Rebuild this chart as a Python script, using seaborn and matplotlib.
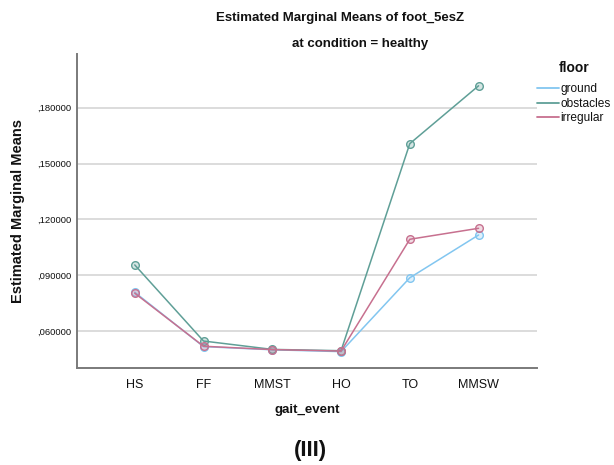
import matplotlib
matplotlib.use("Agg")
import matplotlib.pyplot as plt
from matplotlib.lines import Line2D
from matplotlib.colors import to_rgba
import seaborn as sns
import pandas as pd

# Estimated marginal means of foot_5esZ, condition = healthy
gait_events = ["HS", "FF", "MMST", "HO", "TO", "MMSW"]
floors = ["ground", "obstacles", "irregular"]
ground = [0.0808, 0.0516, 0.0499, 0.0489, 0.0886, 0.1116]
obstacles = [0.0955, 0.0546, 0.0501, 0.0494, 0.1607, 0.1918]
irregular = [0.0803, 0.0518, 0.0500, 0.0492, 0.1093, 0.1152]
y_ticks = [0.060, 0.090, 0.120, 0.150, 0.180]
y_tick_labels = [",060000", ",090000", ",120000", ",150000", ",180000"]

colors = {"ground": "#82c6f0", "obstacles": "#5f9f97", "irregular": "#c7708f"}

df = pd.DataFrame({
    "gait_event": gait_events * 3,
    "floor": [f for f in floors for _ in gait_events],
    "mean": ground + obstacles + irregular,
})
df["pos"] = df["gait_event"].map({g: i for i, g in enumerate(gait_events)})

sns.set_theme(style="white")
plt.rcParams["font.family"] = ["Liberation Sans", "DejaVu Sans"]
plt.rcParams["text.color"] = "#111111"
plt.rcParams["axes.labelcolor"] = "#111111"
plt.rcParams["xtick.color"] = "#111111"
plt.rcParams["ytick.color"] = "#111111"

fig = plt.figure(figsize=(6.14, 4.65), dpi=100)
ax = fig.add_axes([0.1254, 0.2086, 0.7492, 0.6753])

sns.lineplot(data=df, x="pos", y="mean", hue="floor", hue_order=floors,
             palette=colors, marker="o", markersize=5.5, markeredgewidth=1.0,
             linewidth=1.1, legend=False, ax=ax, zorder=3)
for line, f in zip(ax.lines, floors):
    line.set_markerfacecolor(to_rgba(colors[f], 0.25))
    line.set_markeredgecolor(colors[f])

ax.set_xlim(-0.84, 5.85)
ax.set_ylim(0.0401, 0.2089)
ax.set_xticks(range(len(gait_events)))
ax.set_xticklabels(gait_events, fontsize=9)
ax.set_yticks(y_ticks)
ax.set_yticklabels(y_tick_labels, fontsize=6.8)
ax.tick_params(axis="both", length=0, pad=4)
ax.tick_params(axis="x", pad=8)

ax.yaxis.grid(True, color="#d6d6d6", linewidth=1.2)
ax.xaxis.grid(False)
for side in ["top", "right"]:
    ax.spines[side].set_visible(False)
for side in ["left", "bottom"]:
    ax.spines[side].set_color("#7a7a7a")
    ax.spines[side].set_linewidth(1.4)

ax.set_xlabel("gait_event", fontsize=9.5, fontweight="bold", labelpad=9)
ax.set_ylabel("Estimated Marginal Means", fontsize=10.5, fontweight="bold", labelpad=9)

fig.text(340 / 614, 1 - 18 / 465, "Estimated Marginal Means of foot_5esZ",
         ha="center", va="center", fontsize=9.5, fontweight="bold")
fig.text(360 / 614, 1 - 44 / 465, "at condition = healthy",
         ha="center", va="center", fontsize=9.5, fontweight="bold")

handles = [Line2D([0], [0], color=colors[f], linewidth=1.3) for f in floors]
leg = ax.legend(handles, floors, title="floor", loc="upper left",
                bbox_to_anchor=(0.99, 0.993), frameon=False, fontsize=8.6,
                handlelength=1.8, handletextpad=0.15, labelspacing=0.2,
                borderaxespad=0)
leg._legend_box.sep = 6
leg.get_title().set_fontweight("bold")
leg.get_title().set_fontsize(10)

fig.text(310 / 614, 1 - 450 / 465, "(III)", ha="center", va="center",
         fontsize=16, fontweight="bold")

fig.savefig("out.png", dpi=100, facecolor="white")
